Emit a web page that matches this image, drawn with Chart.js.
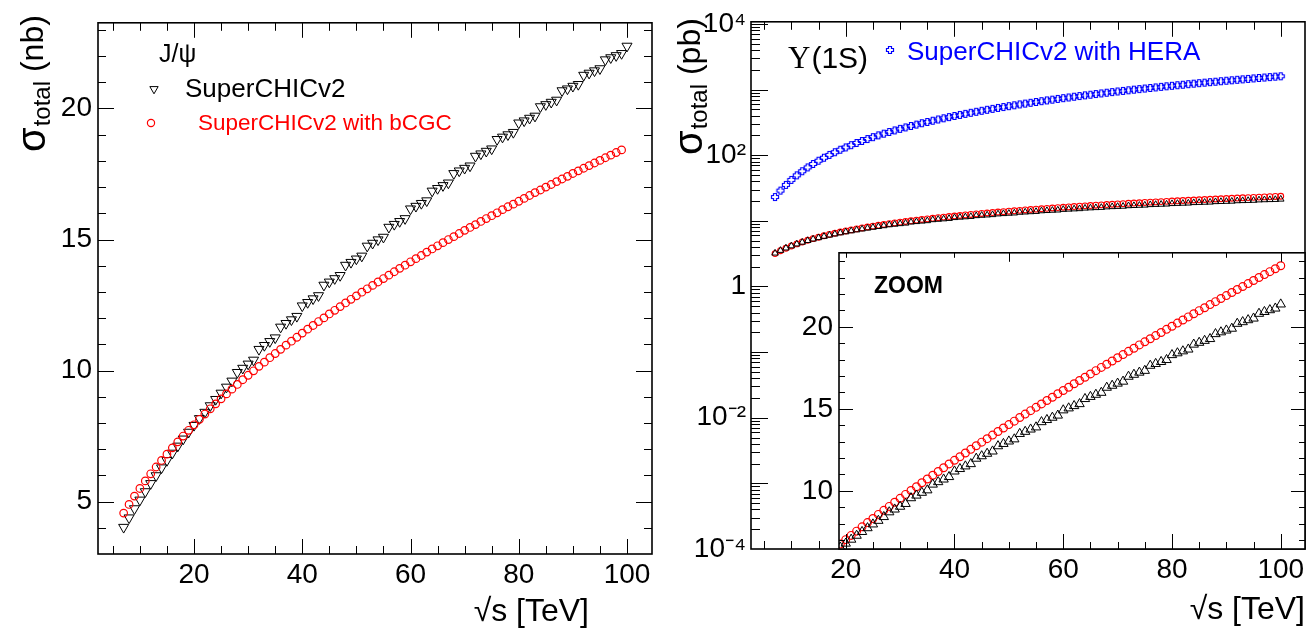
<!DOCTYPE html>
<html><head><meta charset="utf-8">
<script src="https://cdn.jsdelivr.net/npm/chart.js@4.4.1/dist/chart.umd.min.js"></script>
<style>
html,body{margin:0;padding:0;background:#fff;width:1316px;height:630px;overflow:hidden;}
canvas{position:absolute;}
</style></head><body>
<canvas id="cL" width="660" height="630" style="left:0px;top:0px"></canvas>
<canvas id="cR" width="656" height="630" style="left:660px;top:0px"></canvas>
<canvas id="cZ" width="536" height="400" style="left:780px;top:230px"></canvas>
<script>
// ---------------- data ----------------
const sqrtS = [7,8,9,10,11,12,13,14,15,16,17,18,19,20,21,22,23,24,25,26,27,28,29,30,31,32,33,34,35,36,37,38,39,40,41,42,43,44,45,46,47,48,49,50,51,52,53,54,55,56,57,58,59,60,61,62,63,64,65,66,67,68,69,70,71,72,73,74,75,76,77,78,79,80,81,82,83,84,85,86,87,88,89,90,91,92,93,94,95,96,97,98,99,100];

// J/psi, sigma_total in nb
const jpsiSuperCHIC = [4.02,4.38,4.73,5.06,5.38,5.69,5.99,6.29,6.57,6.85,7.12,7.39,7.65,7.91,8.17,8.41,8.66,8.90,9.14,9.37,9.60,
  9.93,10.09,10.25,10.40,10.81,10.96,11.11,11.25,11.66,11.80,11.94,12.07,12.47,12.60,12.74,12.86,13.26,13.38,13.51,13.63,
  14.02,14.13,14.26,14.37,14.75,14.86,14.99,15.09,15.47,15.58,15.69,15.80,16.17,16.27,16.38,16.48,16.85,16.95,17.06,17.16,
  17.52,17.62,17.72,17.81,18.18,18.27,18.37,18.46,18.82,18.91,19.00,19.09,19.45,19.53,19.63,19.71,20.07,20.15,20.24,20.32,
  20.68,20.75,20.85,20.92,21.27,21.35,21.44,21.52,21.86,21.94,22.02,22.10,22.38];
const jpsiBCGC = [4.56,4.89,5.21,5.50,5.79,6.06,6.32,6.57,6.81,7.05,7.28,7.50,7.72,7.93,8.14,8.34,8.54,8.73,8.92,9.11,
  9.29,9.47,9.65,9.82,9.99,10.16,10.32,10.49,10.65,10.81,10.97,11.12,11.27,11.43,11.58,11.72,11.87,12.01,12.16,12.30,
  12.44,12.58,12.72,12.85,12.99,13.12,13.25,13.38,13.51,13.64,13.77,13.90,14.02,14.15,14.27,14.39,14.52,14.64,14.76,14.88,
  15.00,15.11,15.23,15.35,15.46,15.57,15.69,15.80,15.91,16.02,16.14,16.25,16.35,16.46,16.57,16.68,16.79,16.89,17.00,17.10,
  17.21,17.31,17.41,17.52,17.62,17.72,17.82,17.92,18.02,18.12,18.22,18.32,18.42];

// Upsilon(1S), sigma_total in pb
const upsSuperCHIC = [3.22,3.54,3.85,4.15,4.44,4.72,5.00,5.27,5.53,5.79,6.05,6.30,6.55,6.79,7.03,7.27,7.50,7.73,7.96,8.18,
  8.41,8.70,8.87,9.04,9.21,9.56,9.72,9.89,10.04,10.39,10.54,10.70,10.85,11.19,11.34,11.50,11.64,11.97,12.12,12.27,
  12.41,12.73,12.87,13.02,13.15,13.48,13.61,13.75,13.88,14.20,14.33,14.47,14.60,14.92,15.04,15.18,15.30,15.61,15.74,15.87,
  15.99,16.30,16.42,16.55,16.67,16.97,17.09,17.22,17.33,17.64,17.75,17.87,17.99,18.29,18.40,18.52,18.63,18.93,19.04,19.16,
  19.27,19.57,19.68,19.79,19.90,20.20,20.30,20.42,20.52,20.81,20.92,21.03,21.13,21.38];
const upsBCGC = [3.17,3.51,3.83,4.15,4.46,4.77,5.07,5.36,5.64,5.93,6.21,6.48,6.75,7.02,7.28,7.54,7.80,8.06,8.31,8.56,
  8.81,9.05,9.30,9.54,9.78,10.02,10.25,10.49,10.72,10.95,11.18,11.41,11.64,11.86,12.08,12.31,12.53,12.75,12.97,13.18,
  13.40,13.62,13.83,14.04,14.25,14.47,14.68,14.89,15.09,15.30,15.51,15.71,15.92,16.12,16.32,16.53,16.73,16.93,17.13,17.33,
  17.53,17.72,17.92,18.12,18.31,18.51,18.70,18.90,19.09,19.28,19.47,19.66,19.85,20.04,20.23,20.42,20.61,20.80,20.99,21.17,
  21.36,21.54,21.73,21.91,22.10,22.28,22.46,22.64,22.83,23.01,23.19,23.37,23.55,23.73];
const upsHERA = [23.1,28.9,35.3,42.1,49.4,57.1,65.2,73.7,82.5,91.7,101.3,111.2,121.3,131.8,142.6,153.8,165.1,176.8,188.7,200.9,
  213.3,226.1,239.0,252.3,265.7,279.3,293.3,307.4,321.6,336.1,351.0,365.9,381.1,396.4,412.0,427.7,443.6,459.7,476.0,492.5,
  509.1,525.9,543.0,560.1,577.7,595.0,613.0,630.6,648.6,667.0,685.0,703.4,722.0,740.8,759.8,778.7,797.8,817.5,837.0,856.7,
  876.2,896.4,916.2,936.7,956.7,977.0,997.7,1018.8,1039.2,1060.2,1081.2,1102.6,1123.8,1145.0,1166.6,1188.5,1210.3,1232.6,1254.6,1276.0,
  1298.5,1320.8,1343.2,1366.0,1388.8,1411.4,1434.3,1457.3,1481.3,1504.3,1527.7,1551.1,1574.5,1597.9];

// tick labels
const xTickValues = [20,40,60,80,100];
const jpsiTickValues = [5,10,15,20];
const upsTickValues = [1e-4,1e-2,1,1e2,1e4];
const upsTickLabels = ['10\u207B\u2074','10\u207B\u00B2','1','10\u00B2','10\u2074'];
const zoomTickValues = [10,15,20];

// ---------------- styling ----------------
const SANS = "'Liberation Sans', Arial, Helvetica, sans-serif";
const SERIF = "'Liberation Serif', 'Times New Roman', serif";
Chart.defaults.font.family = SANS;
Chart.defaults.color = '#000';

function series(xs, ys){ return ys.map((v,i)=>({x:xs[i], y:v})); }
function steps(a,b,s){ const r=[]; for(let v=a; v<=b+1e-9; v+=s) r.push(Math.round(v*1e6)/1e6); return r; }
const xMinor = steps(5,100,5).filter(v=>v%20!==0);
const jpsiMinor = steps(4,23,1).filter(v=>v%5!==0);
const zoomMinor = steps(7,24,1).filter(v=>v%5!==0);
const zoomTopMinor = steps(20,100,10).filter(v=>v%50!==0);
const zoomTopMajor = [50,100];
const logMajor = steps(-4,4,1).map(e=>Math.pow(10,e));
const logMinor = []; for (let e=-4;e<4;e++) for (let k=2;k<=9;k++) logMinor.push(k*Math.pow(10,e));

// open cross marker (ROOT style 28)
function openCross(color){
  const c=document.createElement('canvas'); c.width=10; c.height=10;
  const g=c.getContext('2d'); g.strokeStyle=color; g.lineWidth=1.2;
  const p=[[3.5,1.5],[6.5,1.5],[6.5,3.5],[8.5,3.5],[8.5,6.5],[6.5,6.5],[6.5,8.5],[3.5,8.5],[3.5,6.5],[1.5,6.5],[1.5,3.5],[3.5,3.5]];
  g.beginPath(); g.moveTo(p[0][0],p[0][1]); for(let i=1;i<p.length;i++) g.lineTo(p[i][0],p[i][1]); g.closePath(); g.stroke();
  return c;
}
const blueCross = openCross('#0000ff');

function tickLines(ctx, chart, axis, vals, len, side){
  const a = chart.chartArea, s = chart.scales[axis];
  ctx.beginPath();
  for (const v of vals){
    const p = s.getPixelForValue(v);
    if (axis==='x'){
      if (p < a.left+0.5 || p > a.right-0.5) continue;
      const px = Math.round(p)+0.5;
      if (side==='bottom'){ ctx.moveTo(px,a.bottom); ctx.lineTo(px,a.bottom-len); }
      else { ctx.moveTo(px,a.top); ctx.lineTo(px,a.top+len); }
    } else {
      if (p < a.top+0.5 || p > a.bottom-0.5) continue;
      const py = Math.round(p)+0.5;
      if (side==='left'){ ctx.moveTo(a.left,py); ctx.lineTo(a.left+len,py); }
      else { ctx.moveTo(a.right,py); ctx.lineTo(a.right-len,py); }
    }
  }
  ctx.stroke();
}
function frame(ctx, a){ ctx.save(); ctx.lineWidth=1.6; ctx.strokeStyle='#000'; ctx.strokeRect(a.left,a.top,a.right-a.left,a.bottom-a.top); ctx.restore(); }
function text(ctx, s, x, y, font, color, align){ ctx.font=font; ctx.fillStyle=color||'#000'; ctx.textAlign=align||'left'; ctx.textBaseline='alphabetic'; ctx.fillText(s,x,y); }
function yTitle(ctx, x, y, unit){
  ctx.save(); ctx.translate(x,y); ctx.rotate(-Math.PI/2); ctx.fillStyle='#000'; ctx.textAlign='left'; ctx.textBaseline='alphabetic';
  ctx.font='40px '+SANS; ctx.fillText('\u03C3',0,0); let w=ctx.measureText('\u03C3').width+1;
  ctx.font='24px '+SANS; ctx.fillText('total',w,5); w+=ctx.measureText('total').width;
  ctx.font='32px '+SANS; ctx.fillText(' ('+unit+')',w,-2);
  ctx.restore();
}
function triMark(ctx,x,y,r,down,color){
  const s=down?-1:1; ctx.save(); ctx.strokeStyle=color; ctx.lineWidth=1; ctx.beginPath();
  ctx.moveTo(x,y-s*r); ctx.lineTo(x+r*0.866,y+s*r*0.5); ctx.lineTo(x-r*0.866,y+s*r*0.5); ctx.closePath(); ctx.stroke(); ctx.restore();
}
function circMark(ctx,x,y,r,color){ ctx.save(); ctx.strokeStyle=color; ctx.lineWidth=1.2; ctx.beginPath(); ctx.arc(x,y,r,0,Math.PI*2); ctx.stroke(); ctx.restore(); }

function xScale(min,max,height,showLabels){
  return { type:'linear', position:'bottom', min:min, max:max,
    grid:{display:false, drawTicks:false}, border:{display:false},
    ticks:{display:showLabels, font:{size:28}, padding:4, maxRotation:0, minRotation:0, autoSkip:false, color:'#000'},
    afterBuildTicks: s=>{ s.ticks = xTickValues.map(v=>({value:v})); },
    afterFit: s=>{ s.height = height; } };
}
const baseOpts = { responsive:false, animation:false, devicePixelRatio:1, events:[],
  plugins:{legend:{display:false}, tooltip:{enabled:false}} };

// ---------------- left panel: J/psi ----------------
new Chart(document.getElementById('cL'), {
  type:'scatter',
  data:{ datasets:[
    { label:'SuperCHICv2 with bCGC', data:series(sqrtS, jpsiBCGC), showLine:false, clip:0,
      pointStyle:'circle', pointRadius:3.8, pointHoverRadius:3.8, pointBorderWidth:1.2, pointBorderColor:'#ff0000', pointBackgroundColor:'rgba(0,0,0,0)' },
    { label:'SuperCHICv2', data:series(sqrtS, jpsiSuperCHIC), showLine:false, clip:0,
      pointStyle:'triangle', pointRotation:180, pointRadius:5.8, pointHoverRadius:5.8, pointBorderWidth:1, pointBorderColor:'#000', pointBackgroundColor:'rgba(0,0,0,0)' }
  ]},
  options:Object.assign({}, baseOpts, {
    layout:{ padding:{top:16,right:8,left:0,bottom:0}, autoPadding:false },
    scales:{
      x: xScale(2.26, 104.62, 76, true),
      y: { type:'linear', min:3.0, max:23.27, grid:{display:false, drawTicks:false}, border:{display:false},
           ticks:{font:{size:28}, padding:6, color:'#000'},
           afterBuildTicks: s=>{ s.ticks = jpsiTickValues.map(v=>({value:v})); },
           afterFit: s=>{ s.width = 98; } }
    }
  }),
  plugins:[{ id:'rootL', afterDraw(chart){
    const ctx=chart.ctx, a=chart.chartArea;
    ctx.save(); ctx.strokeStyle='#000'; ctx.lineWidth=1;
    tickLines(ctx,chart,'x',xTickValues,15,'bottom'); tickLines(ctx,chart,'x',xMinor,8,'bottom');
    tickLines(ctx,chart,'x',xTickValues,15,'top'); tickLines(ctx,chart,'x',xMinor,8,'top');
    tickLines(ctx,chart,'y',jpsiTickValues,16,'left'); tickLines(ctx,chart,'y',jpsiMinor,8,'left');
    tickLines(ctx,chart,'y',jpsiTickValues,16,'right'); tickLines(ctx,chart,'y',jpsiMinor,8,'right');
    frame(ctx,a);
    text(ctx,'J/\u03C8',159,62,'25px '+SANS,'#000');
    triMark(ctx,154,89,4.8,true,'#000');
    text(ctx,'SuperCHICv2',185,97,'26px '+SANS,'#000');
    circMark(ctx,151,123,3.6,'#ff0000');
    text(ctx,'SuperCHICv2 with bCGC',198,130,'22.5px '+SANS,'#ff0000');
    text(ctx,'\u221As [TeV]',589,621,'32px '+SANS,'#000','right');
    yTitle(ctx,45,152,'nb');
    ctx.restore();
  }}]
});

// ---------------- right panel: Upsilon(1S), log scale ----------------
new Chart(document.getElementById('cR'), {
  type:'scatter',
  data:{ datasets:[
    { label:'SuperCHICv2', data:series(sqrtS, upsSuperCHIC), showLine:false, clip:0,
      pointStyle:'triangle', pointRadius:3.8, pointHoverRadius:3.8, pointBorderWidth:1, pointBorderColor:'#000', pointBackgroundColor:'rgba(0,0,0,0)' },
    { label:'SuperCHICv2 with bCGC', data:series(sqrtS, upsBCGC), showLine:false, clip:0,
      pointStyle:'circle', pointRadius:2.9, pointHoverRadius:2.9, pointBorderWidth:1.1, pointBorderColor:'#ff0000', pointBackgroundColor:'rgba(0,0,0,0)' },
    { label:'SuperCHICv2 with HERA', data:series(sqrtS, upsHERA), showLine:false, clip:0,
      pointStyle:blueCross, pointRadius:4, pointHoverRadius:4 }
  ]},
  options:Object.assign({}, baseOpts, {
    layout:{ padding:{top:16,right:11,left:0,bottom:0}, autoPadding:false },
    scales:{
      x: xScale(2.575, 104.46, 81, true),
      y: { type:'logarithmic', min:1e-4, max:1.08e4, grid:{display:false, drawTicks:false}, border:{display:false},
           ticks:{font:{size:28}, padding:5, color:'#000',
             callback:(v)=>{ const i=upsTickValues.indexOf(v); return i>=0 ? upsTickLabels[i] : ''; }},
           afterBuildTicks: s=>{ s.ticks = upsTickValues.map(v=>({value:v})); },
           afterFit: s=>{ s.width = 91; } }
    }
  }),
  plugins:[{ id:'rootR', afterDraw(chart){
    const ctx=chart.ctx, a=chart.chartArea;
    ctx.save(); ctx.strokeStyle='#000'; ctx.lineWidth=1;
    tickLines(ctx,chart,'x',xTickValues,15,'bottom'); tickLines(ctx,chart,'x',xMinor,8,'bottom');
    tickLines(ctx,chart,'x',xTickValues,15,'top'); tickLines(ctx,chart,'x',xMinor,8,'top');
    tickLines(ctx,chart,'y',logMajor,17,'left'); tickLines(ctx,chart,'y',logMinor,9,'left');
    frame(ctx,a);
    text(ctx,'\u03A5',128,68,'31px '+SERIF,'#000');
    ctx.font='31px '+SERIF; const wU=ctx.measureText('\u03A5').width;
    text(ctx,'(1S)',128+wU+1,68,'30px '+SANS,'#000');
    ctx.drawImage(blueCross,230-5,50-5);
    text(ctx,'SuperCHICv2 with HERA',247,60,'26px '+SANS,'#0000ff');
    text(ctx,'\u221As [TeV]',645,619,'32px '+SANS,'#000','right');
    yTitle(ctx,42,155,'pb');
    ctx.restore();
  }}]
});

// ---------------- inset: ZOOM (linear) ----------------
new Chart(document.getElementById('cZ'), {
  type:'scatter',
  data:{ datasets:[
    { label:'SuperCHICv2', data:series(sqrtS, upsSuperCHIC), showLine:false, clip:0,
      pointStyle:'triangle', pointRadius:5.4, pointHoverRadius:5.4, pointBorderWidth:1, pointBorderColor:'#000', pointBackgroundColor:'rgba(0,0,0,0)' },
    { label:'SuperCHICv2 with bCGC', data:series(sqrtS, upsBCGC), showLine:false, clip:0,
      pointStyle:'circle', pointRadius:3.9, pointHoverRadius:3.9, pointBorderWidth:1.2, pointBorderColor:'#ff0000', pointBackgroundColor:'rgba(0,0,0,0)' }
  ]},
  options:Object.assign({}, baseOpts, {
    layout:{ padding:{top:15,right:11,left:0,bottom:0}, autoPadding:false },
    scales:{
      x: xScale(18.76, 104.46, 81, false),
      y: { type:'linear', min:6.45, max:24.52, grid:{display:false, drawTicks:false}, border:{display:false},
           ticks:{font:{size:28}, padding:6, color:'#000'},
           afterBuildTicks: s=>{ s.ticks = zoomTickValues.map(v=>({value:v})); },
           afterFit: s=>{ s.width = 59; } }
    }
  }),
  plugins:[{ id:'rootZ',
    beforeDraw(chart){ const ctx=chart.ctx, a=chart.chartArea; ctx.save(); ctx.fillStyle='#fff'; ctx.fillRect(a.left,a.top,a.right-a.left,a.bottom-a.top); ctx.restore(); },
    afterDraw(chart){
      const ctx=chart.ctx, a=chart.chartArea;
      ctx.save(); ctx.strokeStyle='#000'; ctx.lineWidth=1;
      tickLines(ctx,chart,'x',xTickValues,15,'bottom'); tickLines(ctx,chart,'x',xMinor,7,'bottom');
      tickLines(ctx,chart,'x',zoomTopMajor,9,'top'); tickLines(ctx,chart,'x',zoomTopMinor,5,'top');
      tickLines(ctx,chart,'y',zoomTickValues,14,'left'); tickLines(ctx,chart,'y',zoomMinor,6,'left');
      tickLines(ctx,chart,'y',zoomTickValues,14,'right'); tickLines(ctx,chart,'y',zoomMinor,6,'right');
      frame(ctx,a);
      text(ctx,'ZOOM',94,63,'bold 23px '+SANS,'#000');
      ctx.restore();
    }}]
});
</script>
</body></html>
